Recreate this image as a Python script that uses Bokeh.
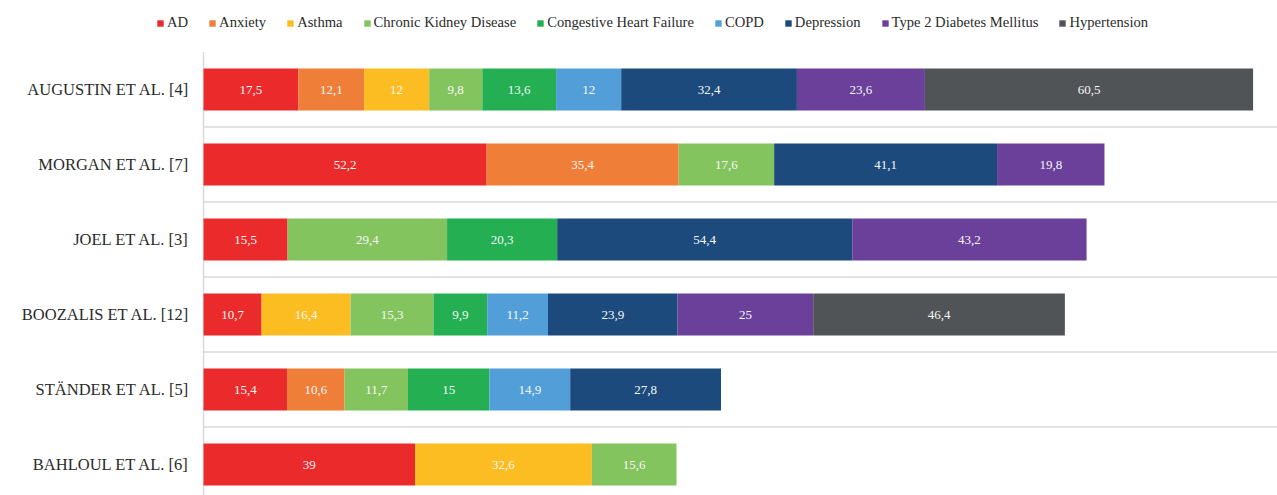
from bokeh.plotting import figure
from bokeh.models import ColumnDataSource, Range1d, Legend, LegendItem
from bokeh.embed import file_html
from bokeh.resources import INLINE
from bokeh.core.properties import value

studies = ["AUGUSTIN ET AL. [4]", "MORGAN ET AL. [7]", "JOEL ET AL. [3]",
           "BOOZALIS ET AL. [12]", "STÄNDER ET AL. [5]", "BAHLOUL ET AL. [6]"]
series = ["AD", "Anxiety", "Asthma", "Chronic Kidney Disease", "Congestive Heart Failure",
          "COPD", "Depression", "Type 2 Diabetes Mellitus", "Hypertension"]

ad = [17.5, 52.2, 15.5, 10.7, 15.4, 39]
anxiety = [12.1, 35.4, 0, 0, 10.6, 0]
asthma = [12, 0, 0, 16.4, 0, 32.6]
ckd = [9.8, 17.6, 29.4, 15.3, 11.7, 15.6]
chf = [13.6, 0, 20.3, 9.9, 15, 0]
copd = [12, 0, 0, 11.2, 14.9, 0]
depression = [32.4, 41.1, 54.4, 23.9, 27.8, 0]
t2dm = [23.6, 19.8, 43.2, 25, 0, 0]
hypertension = [60.5, 0, 0, 46.4, 0, 0]

values = [ad, anxiety, asthma, ckd, chf, copd, depression, t2dm, hypertension]
colors = ["#EA2A2B", "#EE7E38", "#FBBD22", "#84C45F", "#23AF52", "#519ED8",
          "#1C4A7D", "#6A409B", "#515456"]

serif = "Liberation Serif"
n = len(studies)
ys = list(range(n))

x_range = Range1d(-37.43, 198)
y_range = Range1d(5.413, -1.187)

p = figure(width=1277, height=495, output_backend="svg", toolbar_location=None,
           x_range=x_range, y_range=y_range,
           x_axis_location=None, y_axis_location=None,
           min_border_left=0, min_border_right=0, min_border_top=0, min_border_bottom=0)
p.outline_line_color = None
p.grid.visible = False

# category separators and the value axis line
seps = [y + 0.5 for y in ys[:-1]]
p.segment(x0=0, x1=x_range.end, y0=seps, y1=seps, line_color="#D9D9D9", line_width=1.5)
p.segment(x0=0, x1=0, y0=-0.5, y1=y_range.start, line_color="#D9D9D9", line_width=1.5)

# category labels (left of the value axis)
p.text(x=0, y=ys, text=studies, x_offset=-14, text_align="right", text_baseline="middle",
       text_font=value(serif), text_font_size="16.5px", text_color="#2B2B2B")

cum = [0.0] * n
items = []
for name, vals, col in zip(series, values, colors):
    rows = [i for i, v in enumerate(vals) if v > 0]
    left = [cum[i] for i in rows]
    right = [cum[i] + vals[i] for i in rows]
    src = ColumnDataSource(dict(
        y=[ys[i] for i in rows], left=left, right=right,
        mid=[(l + r) / 2 for l, r in zip(left, right)],
        lab=[("%g" % vals[i]).replace(".", ",") for i in rows]))
    r = p.hbar(y="y", left="left", right="right", height=0.56, source=src,
               fill_color=col, line_color=None)
    p.text(x="mid", y="y", text="lab", source=src, text_color="#F7F7F7",
           text_font=value(serif), text_font_size="13px",
           text_align="center", text_baseline="middle")
    items.append(LegendItem(label=name, renderers=[r]))
    for i in rows:
        cum[i] += vals[i]

legend = Legend(items=items, orientation="horizontal", location=(156, 464),
                glyph_width=8, glyph_height=8, label_standoff=3, spacing=20,
                label_text_font=serif, label_text_font_size="14.6px",
                label_text_color="#2B2B2B", label_height=14,
                padding=0, margin=0, border_line_color=None,
                background_fill_alpha=0)
p.add_layout(legend, "center")

open("out.html", "w").write(file_html(p, INLINE))
